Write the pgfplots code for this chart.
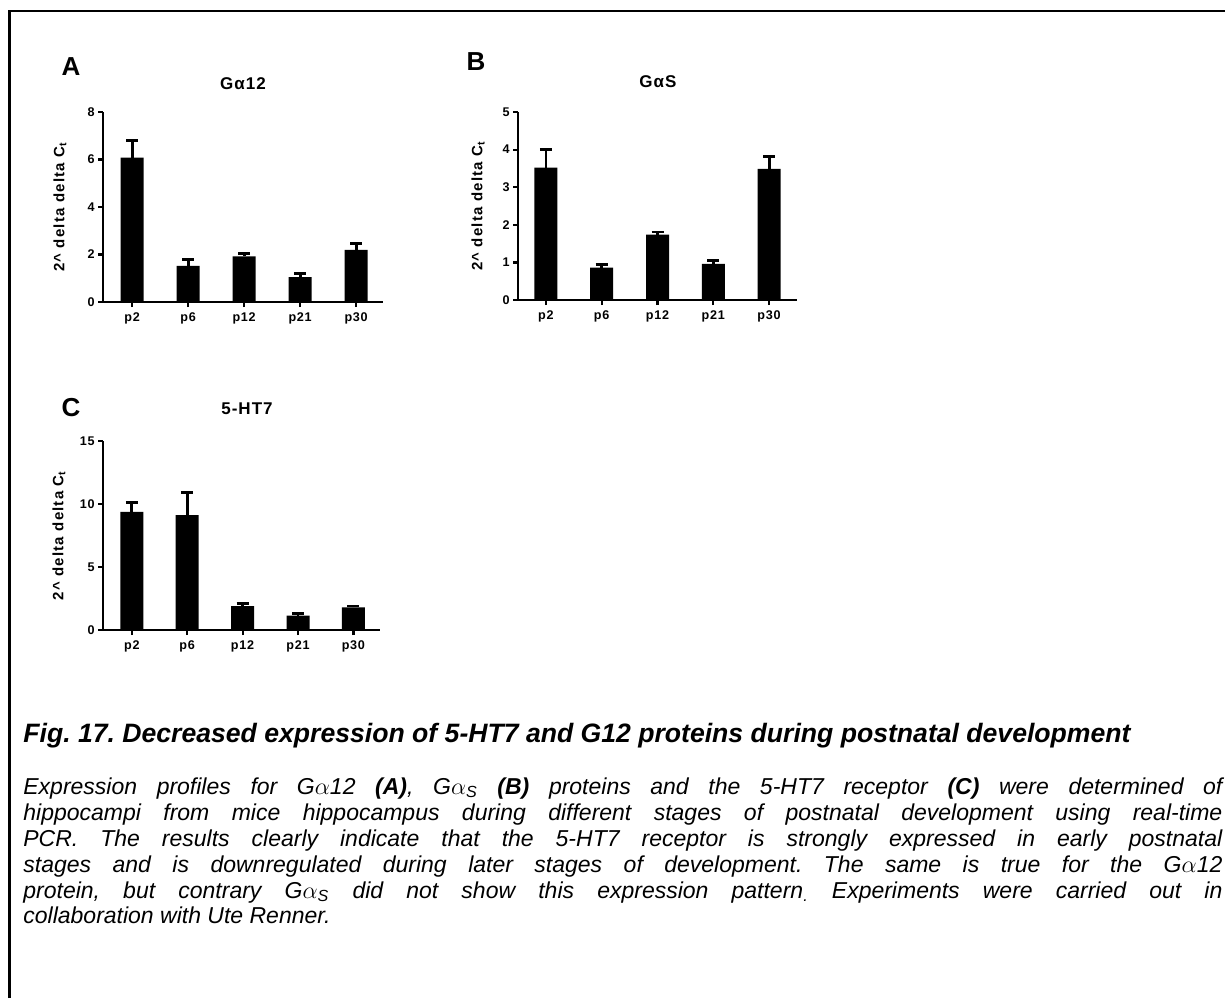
\documentclass[border=0pt]{standalone}
\usepackage{fontspec}
\setmainfont{Liberation Sans}
\usepackage{pgfplots}
\pgfplotsset{compat=1.18}
\frenchspacing

% common look of the three bar panels
\pgfplotsset{
  devbar/.style={
    scale only axis,
    axis x line*=bottom, axis y line*=left,
    axis line style={line width=1.4pt, -},
    ymin=0,
    xtick={1,2,3,4,5},
    xticklabels={p2,p6,p12,p21,p30},
    tick align=outside,
    major tick length=2.5pt,
    tick style={line width=1.1pt, black},
    /pgf/number format/assume math mode=true,
    tick label style={font=\fontsize{6.3}{7}\selectfont\bfseries\addfontfeatures{LetterSpace=6}, inner sep=1.5pt},
    x tick label style={yshift=-1pt},
    ylabel={2\textasciicircum{} delta delta C\textsubscript{t}},
    ylabel style={font=\fontsize{7.5}{8}\selectfont\bfseries\addfontfeatures{LetterSpace=8}, anchor=center},
    ybar, bar width=11.5pt,
  },
  devplot/.style={
    fill=black, draw=none,
    error bars/.cd, y dir=plus, y explicit,
    error bar style={line width=1.4pt, black},
    error mark options={rotate=90, mark size=3pt, line width=1.4pt, black},
  },
}

\begin{document}
\begin{tikzpicture}
\useasboundingbox (0pt,0pt) rectangle (612.5pt,-499pt);
\draw[line width=1.4pt] (4.8pt,-499pt) -- (4.8pt,-5.5pt) -- (612.5pt,-5.5pt);

% Panel A: G alpha 12
\begin{axis}[devbar, at={(51.5pt,-151pt)}, anchor=south west,
  width=140pt, height=95pt, xmin=0.48, xmax=5.48, ymax=8,
  ytick={0,2,4,6,8},
  ylabel style={at={(axis description cs:-0.154,0.5)}}]
\addplot[devplot] coordinates {
  (1,6.08) +- (0,0.73)
  (2,1.52) +- (0,0.26)
  (3,1.92) +- (0,0.11)
  (4,1.05) +- (0,0.14)
  (5,2.20) +- (0,0.28)
};
\end{axis}

% Panel B: G alpha S
\begin{axis}[devbar, at={(259pt,-150pt)}, anchor=south west,
  width=139.5pt, height=94pt, xmin=0.5, xmax=5.5, ymax=5,
  ytick={0,1,2,3,4,5},
  ylabel style={at={(axis description cs:-0.143,0.5)}}]
\addplot[devplot] coordinates {
  (1,3.52) +- (0,0.49)
  (2,0.86) +- (0,0.08)
  (3,1.74) +- (0,0.07)
  (4,0.96) +- (0,0.10)
  (5,3.49) +- (0,0.33)
};
\end{axis}

% Panel C: 5-HT7 receptor
\begin{axis}[devbar, at={(51.5pt,-315pt)}, anchor=south west,
  width=138.5pt, height=94.5pt, xmin=0.48, xmax=5.48, ymax=15,
  ytick={0,5,10,15},
  ylabel style={at={(axis description cs:-0.159,0.5)}}]
\addplot[devplot] coordinates {
  (1,9.37) +- (0,0.72)
  (2,9.11) +- (0,1.79)
  (3,1.90) +- (0,0.21)
  (4,1.14) +- (0,0.15)
  (5,1.80) +- (0,0.10)
};
\end{axis}

\begin{scope}[x=0.5pt, y=-0.5pt]
  % panel letters and titles
  \node[font=\fontsize{13}{15}\selectfont\bfseries] at (71,67) {A};
  \node[font=\fontsize{13}{15}\selectfont\bfseries] at (476,62) {B};
  \node[font=\fontsize{13}{15}\selectfont\bfseries] at (71,408) {C};
  \begin{scope}[every node/.style={font=\fontsize{8.5}{10}\selectfont\bfseries\addfontfeatures{LetterSpace=6}}]
    \node at (243,84) {Gα12};
    \node at (658,82) {GαS};
    \node at (247,409) {5-HT7};
  \end{scope}

  % caption
  \node[anchor=base west, inner sep=0pt, font=\fontsize{13.3}{15}\selectfont\bfseries\itshape]
    at (23,742) {Fig. 17. Decreased expression of 5-HT7 and G12 proteins during postnatal development};
  \begin{scope}[every node/.style={anchor=base west, inner sep=0pt, font=\fontsize{11.5}{13}\selectfont\itshape}]
    \node at (23,794) {\hbox to 599.5pt{Expression profiles for G$\alpha$12 \textbf{(A)}, G$\alpha$\textsubscript{S} \textbf{(B)} proteins and the 5-HT7 receptor \textbf{(C)} were determined of}};
    \node at (23,820) {\hbox to 599.5pt{hippocampi from mice hippocampus during different stages of postnatal development using real-time}};
    \node at (23,846) {\hbox to 599.5pt{PCR. The results clearly indicate that the 5-HT7 receptor is strongly expressed in early postnatal}};
    \node at (23,872) {\hbox to 599.5pt{stages and is downregulated during later stages of development. The same is true for the G$\alpha$12}};
    \node at (23,898) {\hbox to 599.5pt{protein, but contrary G$\alpha$\textsubscript{S} did not show this expression pattern\textsubscript{.} Experiments were carried out in}};
    \node at (23,923) {collaboration with Ute Renner.};
  \end{scope}
\end{scope}
\end{tikzpicture}
\end{document}
